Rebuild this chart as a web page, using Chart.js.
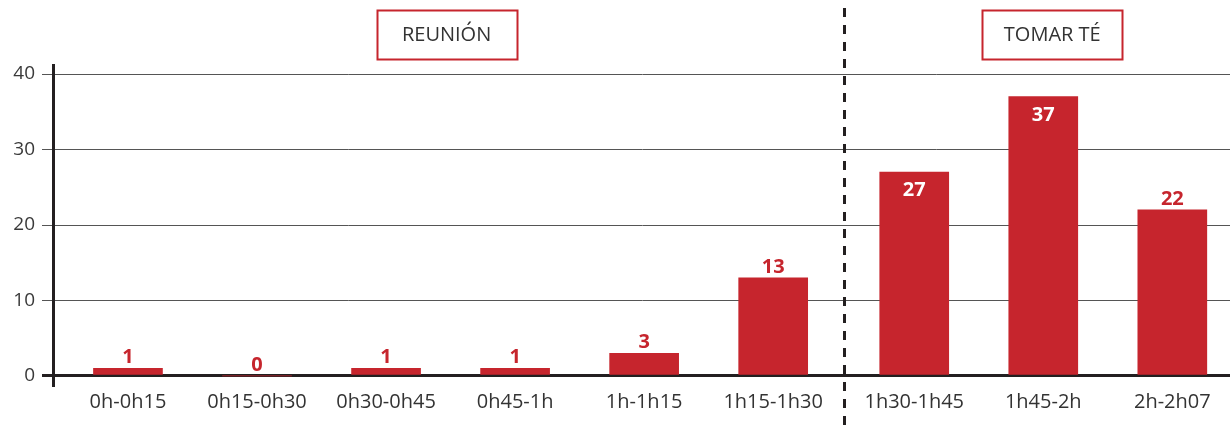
<!DOCTYPE html>
<html>
<head>
<meta charset="utf-8">
<script src="https://cdn.jsdelivr.net/npm/chart.js@4.4.1/dist/chart.umd.min.js"></script>
<style>
  html, body { margin: 0; padding: 0; background: #ffffff; }
  #wrap { width: 1230px; height: 429px; position: relative; }
</style>
</head>
<body>
<div id="wrap"><canvas id="c" width="1230" height="429"></canvas></div>
<script>
// ---- data ----
const categories = ['0h-0h15', '0h15-0h30', '0h30-0h45', '0h45-1h', '1h-1h15', '1h15-1h30', '1h30-1h45', '1h45-2h', '2h-2h07'];
const values = [1, 0, 1, 1, 3, 13, 27, 37, 22];
const groupOf = [0, 0, 0, 0, 0, 0, 1, 1, 1];
const groupNames = ['REUNIÓN', 'TOMAR TÉ'];
const yTicks = [0, 10, 20, 30, 40];

// ---- layout constants ----
const GROUP_GAP = 0.093;   // extra space between the two groups (in slot units)
const RED = '#C6252D';
const DARK = '#231F20';
const FONT = '"Open Sans", "Noto Sans", sans-serif';

const xPos = categories.map((c, i) => i + groupOf[i] * GROUP_GAP);
const points = values.map((v, i) => ({ x: xPos[i], y: v }));

const dividerPlugin = {
  id: 'divider',
  afterDraw(chart) {
    const ctx = chart.ctx;
    const xs = chart.scales.x;
    for (let i = 1; i < groupOf.length; i++) {
      if (groupOf[i] !== groupOf[i - 1]) {
        const px = (xs.getPixelForValue(xPos[i - 1]) + xs.getPixelForValue(xPos[i])) / 2;
        ctx.save();
        ctx.strokeStyle = DARK;
        ctx.lineWidth = 3;
        ctx.setLineDash([9, 8]);
        ctx.beginPath();
        ctx.moveTo(Math.round(px) + 0.5, 8);
        ctx.lineTo(Math.round(px) + 0.5, chart.height);
        ctx.stroke();
        ctx.restore();
      }
    }
    groupNames.forEach((name, g) => {
      const idx = groupOf.map((gg, i) => gg === g ? i : -1).filter(i => i >= 0);
      const x0 = xs.getPixelForValue(xPos[idx[0]]);
      const x1 = xs.getPixelForValue(xPos[idx[idx.length - 1]]);
      const cx = (x0 + x1) / 2 + (g === 0 ? -4 : 9);
      const w = 140, h = 49, top = 10;
      ctx.save();
      ctx.strokeStyle = RED;
      ctx.lineWidth = 2;
      ctx.strokeRect(Math.round(cx - w / 2) + 0.5, top + 0.5, w, h);
      ctx.fillStyle = '#333333';
      ctx.font = '400 20px ' + FONT;
      ctx.textAlign = 'center';
      ctx.textBaseline = 'middle';
      ctx.fillText(name, cx, top + h / 2 + 1);
      ctx.restore();
    });
  }
};

const valueLabelPlugin = {
  id: 'valueLabels',
  afterDatasetsDraw(chart) {
    const ctx = chart.ctx;
    const meta = chart.getDatasetMeta(0);
    ctx.save();
    ctx.font = 'bold 20px ' + FONT;
    ctx.textAlign = 'center';
    ctx.textBaseline = 'alphabetic';
    meta.data.forEach((bar, i) => {
      const v = values[i];
      if (v >= 25) {
        ctx.fillStyle = '#ffffff';
        ctx.fillText(String(v), bar.x, bar.y + 24);
      } else {
        ctx.fillStyle = RED;
        ctx.fillText(String(v), bar.x, bar.y - 5);
      }
    });
    ctx.restore();
  }
};

new Chart(document.getElementById('c'), {
  type: 'bar',
  data: {
    datasets: [{
      data: points,
      backgroundColor: RED,
      borderWidth: 0,
      barThickness: 69
    }]
  },
  options: {
    responsive: false,
    animation: false,
    layout: { padding: { top: 65, left: 0, right: 0, bottom: 10 } },
    plugins: { legend: { display: false }, tooltip: { enabled: false } },
    scales: {
      x: {
        type: 'linear',
        offset: false,
        min: -0.581,
        max: 8.54,
        afterBuildTicks(scale) { scale.ticks = xPos.map(v => ({ value: v })); },
        ticks: {
          autoSkip: false,
          maxRotation: 0,
          padding: 5,
          color: '#333333',
          font: { family: FONT, size: 20, weight: '400' },
          callback: (val, idx) => categories[idx]
        },
        grid: { display: false, drawTicks: false },
        border: { display: false }
      },
      y: {
        min: -1.2,
        max: 41.2,
        afterBuildTicks(scale) { scale.ticks = yTicks.map(v => ({ value: v })); },
        afterFit(scale) { scale.width = 53; },
        ticks: {
          padding: 7,
          color: '#3a3a3a',
          font: { family: FONT, size: 19, weight: '400' }
        },
        grid: {
          drawTicks: true,
          tickLength: 11,
          color: ctx => ctx.tick && ctx.tick.value === 0 ? DARK : '#555555',
          lineWidth: ctx => ctx.tick && ctx.tick.value === 0 ? 3 : 1,
          tickColor: ctx => ctx.tick && ctx.tick.value === 0 ? DARK : '#555555',
          tickWidth: ctx => ctx.tick && ctx.tick.value === 0 ? 3 : 1
        },
        border: { display: true, color: DARK, width: 3 }
      }
    }
  },
  plugins: [valueLabelPlugin, dividerPlugin]
});
</script>
</body>
</html>
